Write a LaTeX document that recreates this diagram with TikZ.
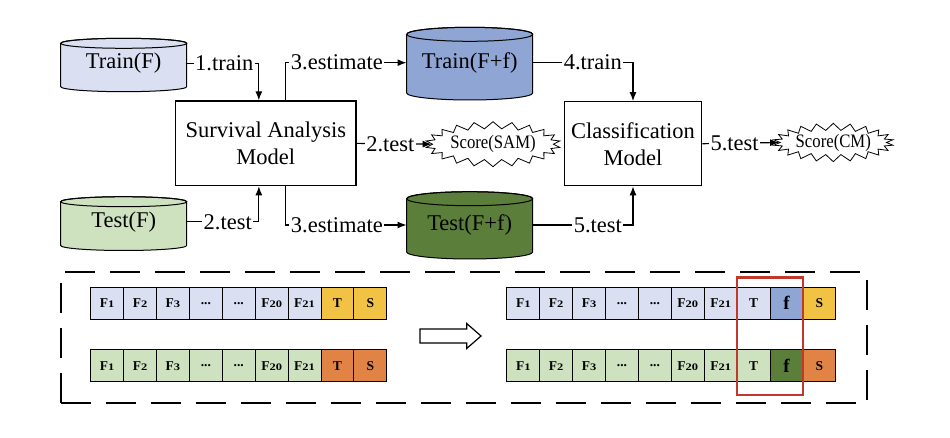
\documentclass[tikz,border=0pt]{standalone}
\usepackage{fontspec}
\setmainfont{Liberation Serif}
\usetikzlibrary{shapes.symbols,arrows.meta,calc}
\definecolor{trainlight}{RGB}{218,224,242}
\definecolor{trainblue}{RGB}{143,166,213}
\definecolor{testlight}{RGB}{206,226,191}
\definecolor{testgreen}{RGB}{92,126,59}
\definecolor{tyellow}{RGB}{242,194,68}
\definecolor{torange}{RGB}{224,131,68}
\definecolor{boxred}{RGB}{192,57,43}
\newcommand\Fn[1]{F\scalebox{1.25}[1]{\fontsize{10}{10}\selectfont #1}}
\newcommand\mydots{...}
\newcommand\lbltxt[1]{\ifcase#1\or\Fn{1}\or\Fn{2}\or\Fn{3}\or\mydots\or\mydots\or\Fn{20}\or\Fn{21}\fi}
\newcommand\scoretxt[1]{\scalebox{0.88}[1]{\fontsize{19}{19}\selectfont #1}}
% cylinder: x1, x2, ytop, ybottom, ry, colour
\newcommand\mycyl[6]{%
  \filldraw[fill=#6, line width=1pt] (#1,#3+#5) -- (#1,#4-#5)
    arc[start angle=180, end angle=0, x radius={(#2-#1)/2}, y radius=#5]
    -- (#2,#3+#5)
    arc[start angle=0, end angle=-180, x radius={(#2-#1)/2}, y radius=#5] -- cycle;
  \draw[line width=1pt] ({(#1+#2)/2},#3+#5) ellipse[x radius={(#2-#1)/2}, y radius=#5];
}
\tikzset{
  mainfont/.style={font=\fontsize{22.5}{27}\selectfont},
  cyl/.style={inner sep=0pt, minimum width=126pt, minimum height=20pt, mainfont},
  modelbox/.style={draw, line width=1.2pt, fill=white, align=center, mainfont, inner sep=0pt},
  conn/.style={line width=1.2pt, -{Latex[length=9pt,width=7pt]}},
  lbl/.style={fill=white, inner sep=1.5pt, mainfont},
  burst/.style={starburst, draw, line width=0.8pt, fill=white, starburst points=22,
    starburst point height=7pt, random starburst=0, inner sep=0pt},
  cell/.style={draw, line width=1pt, minimum width=32.9pt, minimum height=32pt, inner sep=0pt,
    font=\fontsize{13.5}{13.5}\selectfont\bfseries},
  panel/.style={draw, line width=1.8pt, dash pattern=on 30pt off 15pt},
}
\begin{document}
\begin{tikzpicture}[x=1pt,y=-1pt]
\useasboundingbox (0,0) rectangle (950,438);

% cylinders
\mycyl{60.7}{186.7}{38.3}{91.7}{5}{trainlight}
\mycyl{60.7}{186.7}{196.7}{250.5}{5}{testlight}
\mycyl{406.7}{532.7}{27.3}{100}{7}{trainblue}
\mycyl{406.7}{532.7}{191.7}{259}{7}{testgreen}
\node[cyl] (trainF) at (123.7,63.5) {Train(F)};
\node[cyl] (testF) at (123.7,221.8) {Test(F)};
\node[cyl] (trainFf) at (469.7,62.7) {Train(F+f)};
\node[cyl] (testFf) at (469.7,225) {Test(F+f)};

% models
\node[modelbox, minimum width=180.3pt, minimum height=84.7pt] (sam) at (265.85,143.35) {Survival Analysis\\Model};
\node[modelbox, minimum width=137.4pt, minimum height=84pt] (cm) at (633,143.7) {Classification\\Model};

% scores
\node[burst, minimum width=120pt, minimum height=45pt] (ssam) at (493,144.2) {\scoretxt{Score(SAM)}};
\node[burst, minimum width=110pt, minimum height=38.4pt] (scm) at (833.3,142.5) {\scoretxt{Score(CM)}};

% connectors
\draw[conn] (trainF.east) -| node[lbl, anchor=east, pos=0.5, xshift=-3.5pt] {1.train} ($(sam.north)+(-7,0)$);
\draw[conn] (testF.east) -| node[lbl, anchor=east, pos=0.5, xshift=-5pt] {2.test} ($(sam.south)+(-7,0)$);
\draw[conn] ($(sam.north)+(20,0)$) |- node[lbl, anchor=west, pos=0.5, xshift=3pt] {3.estimate} (trainFf.west);
\draw[conn] ($(sam.south)+(20,0)$) |- node[lbl, anchor=west, pos=0.5, xshift=3pt] {3.estimate} (testFf.west);
\draw[conn] (sam.east) -- node[lbl, pos=0.45] {2.test} (ssam.west);
\draw[conn] (trainFf.east) -| node[lbl, anchor=east, pos=0.5, xshift=-9pt] {4.train} (cm.north);
\draw[conn] (testFf.east) -| node[lbl, anchor=east, pos=0.5, xshift=-9pt] {5.test} (cm.south);
\draw[conn] (cm.east) -- node[lbl, pos=0.42] {5.test} (scm.west);

% bottom panel
\node[panel, minimum width=806.6pt, minimum height=130.7pt] (panelbox) at (464,337.65) {};

\foreach \i in {1,...,7} {
  \node[cell, fill=trainlight] (a\i) at ({90.7+16.45+(\i-1)*32.9},303.3) {\lbltxt{\i}};
  \node[cell, fill=testlight] (b\i) at ({90.7+16.45+(\i-1)*32.9},365.8) {\lbltxt{\i}};
  \node[cell, fill=trainlight] (c\i) at ({506.8+16.45+(\i-1)*32.9},303.3) {\lbltxt{\i}};
  \node[cell, fill=testlight] (d\i) at ({506.8+16.45+(\i-1)*32.9},365.8) {\lbltxt{\i}};
}
\node[cell, fill=tyellow] (a8) at ({90.7+16.45+7*32.9},303.3) {T};
\node[cell, fill=tyellow] (a9) at ({90.7+16.45+8*32.9},303.3) {S};
\node[cell, fill=torange] (b8) at ({90.7+16.45+7*32.9},365.8) {T};
\node[cell, fill=torange] (b9) at ({90.7+16.45+8*32.9},365.8) {S};
\node[cell, fill=trainlight] (c8) at ({506.8+16.45+7*32.9},303.3) {T};
\node[cell, fill=trainblue] (c9) at ({506.8+16.45+8*32.9},303.3) {\fontsize{19}{19}\selectfont f};
\node[cell, fill=tyellow] (c10) at ({506.8+16.45+9*32.9},303.3) {S};
\node[cell, fill=testlight] (d8) at ({506.8+16.45+7*32.9},365.8) {T};
\node[cell, fill=testgreen] (d9) at ({506.8+16.45+8*32.9},365.8) {\fontsize{19}{19}\selectfont f};
\node[cell, fill=torange] (d10) at ({506.8+16.45+9*32.9},365.8) {S};

% selection box
\node[draw=boxred, line width=2.5pt, minimum width=65.8pt, minimum height=117.3pt, inner sep=0pt] (sel) at (769.9,336.35) {};

% hollow arrow
\draw[line width=1.2pt, fill=white] (420,329) -- (466.7,329) -- (466.7,323.5) -- (481,336)
  -- (466.7,348.5) -- (466.7,343) -- (420,343) -- cycle;
\end{tikzpicture}
\end{document}
